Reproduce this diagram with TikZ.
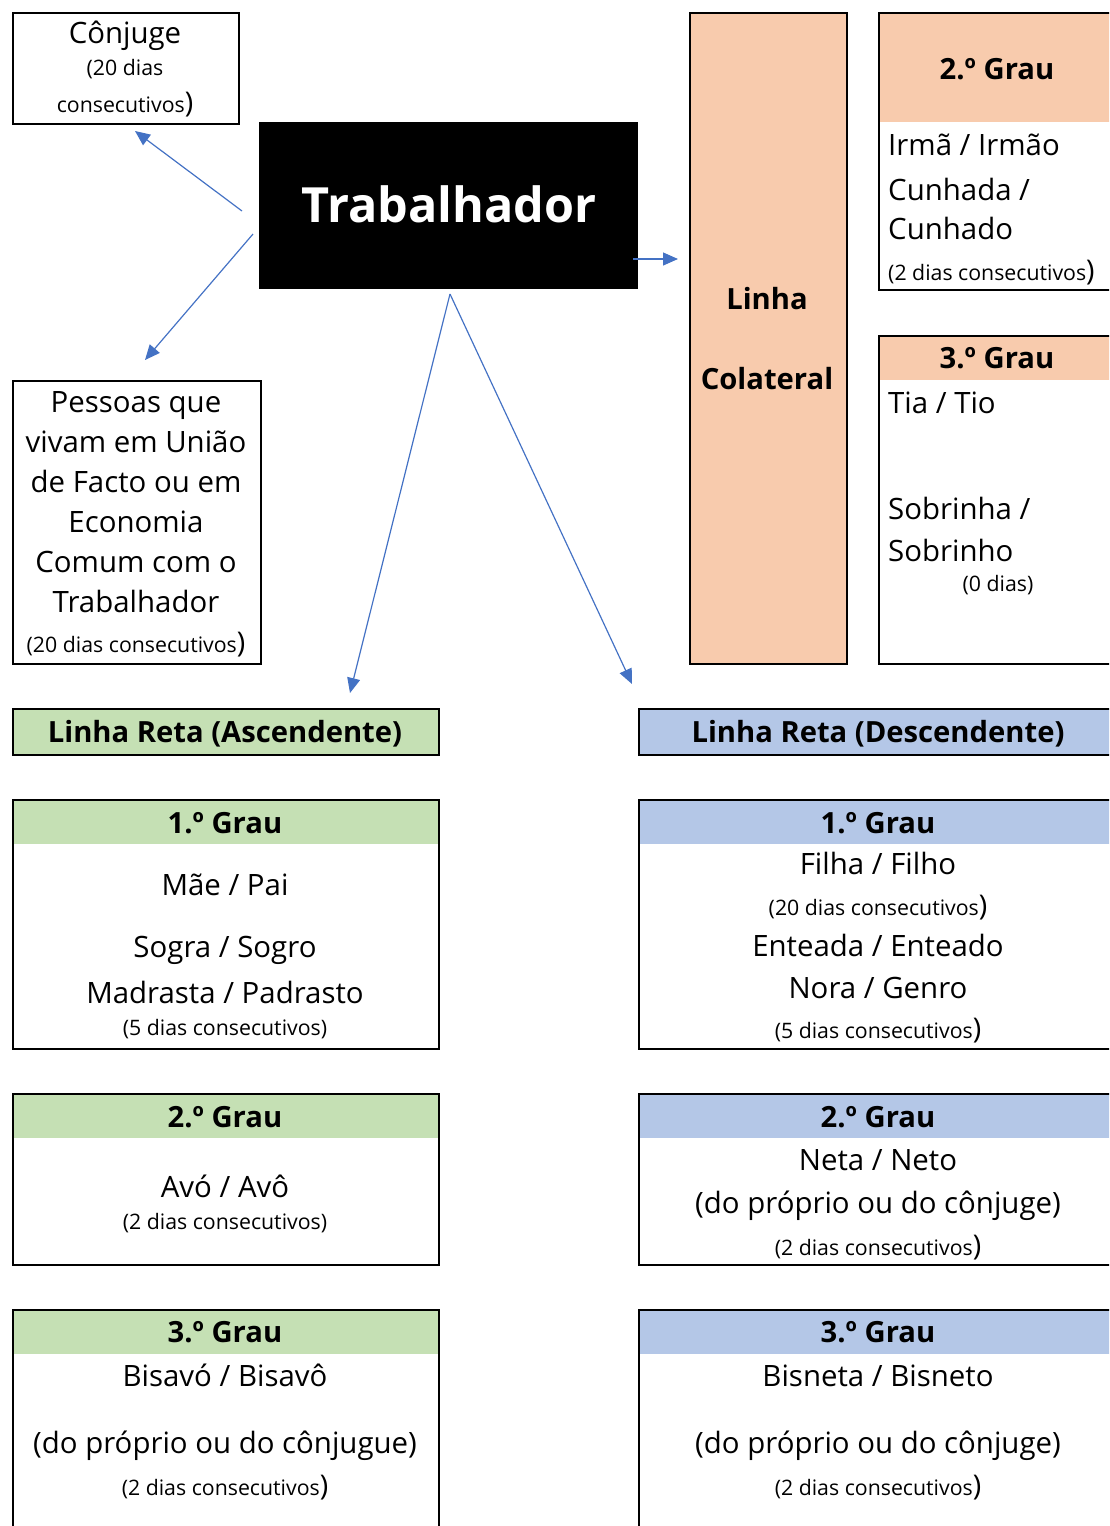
\documentclass[tikz,border=0pt]{standalone}
\usepackage{fontspec}
\setmainfont{Open Sans}
\usetikzlibrary{arrows.meta}
\definecolor{peach}{HTML}{F8CBAD}
\definecolor{lgreen}{HTML}{C5E0B4}
\definecolor{lblue}{HTML}{B4C7E7}
\definecolor{arrowblue}{HTML}{4472C4}
\newcommand\bigparen{{\fontsize{28.5}{30}\selectfont)}}
\begin{document}
\begin{tikzpicture}[x=1pt,y=-1pt,
  frame/.style={draw=black,line width=2.2pt,anchor=north west,inner sep=0pt},
  hdr/.style={fill=#1,anchor=north west,inner sep=0pt},
  rg/.style={anchor=base,inner sep=0pt,font=\fontsize{29.4}{34}\selectfont},
  sm/.style={anchor=base,inner sep=0pt,font=\fontsize{21.3}{25}\selectfont},
  bd/.style={anchor=base,inner sep=0pt,font=\bfseries\fontsize{29.2}{34}\selectfont},
  arr/.style={draw=arrowblue,line width=1.2pt,-{Triangle[length=15pt,width=13pt]}}
]
\useasboundingbox (0,0) rectangle (1109,1526);
\clip (0,0) rectangle (1109,1526);

% ---- boxes ----
\node[frame,minimum width=226pt,minimum height=111pt] (conj) at (12,12) {};
\node[fill=black,anchor=north west,inner sep=0pt,minimum width=379pt,minimum height=167pt] (trab) at (259,122) {};
\node[frame,minimum width=248pt,minimum height=283pt] (pess) at (12,380) {};
\node[frame,fill=peach,minimum width=157pt,minimum height=651pt] (colat) at (689,12) {};

\node[hdr=peach,minimum width=250pt,minimum height=110pt] (r2h) at (878,12) {};
\node[frame,minimum width=250pt,minimum height=277pt] (r2) at (878,12) {};
\node[hdr=peach,minimum width=250pt,minimum height=45pt] (r3h) at (878,335) {};
\node[frame,minimum width=250pt,minimum height=328pt] (r3) at (878,335) {};

\node[frame,fill=lgreen,minimum width=426pt,minimum height=46pt] (asc) at (12,708) {};
\node[frame,fill=lblue,minimum width=490pt,minimum height=46pt] (desc) at (638,708) {};

\node[hdr=lgreen,minimum width=426pt,minimum height=45pt] (a1h) at (12,799) {};
\node[frame,minimum width=426pt,minimum height=249pt] (a1) at (12,799) {};
\node[hdr=lblue,minimum width=490pt,minimum height=45pt] (d1h) at (638,799) {};
\node[frame,minimum width=490pt,minimum height=249pt] (d1) at (638,799) {};

\node[hdr=lgreen,minimum width=426pt,minimum height=45pt] (a2h) at (12,1093) {};
\node[frame,minimum width=426pt,minimum height=171pt] (a2) at (12,1093) {};
\node[hdr=lblue,minimum width=490pt,minimum height=45pt] (d2h) at (638,1093) {};
\node[frame,minimum width=490pt,minimum height=171pt] (d2) at (638,1093) {};

\node[hdr=lgreen,minimum width=426pt,minimum height=45pt] (a3h) at (12,1309) {};
\node[frame,minimum width=426pt,minimum height=240pt] (a3) at (12,1309) {};
\node[hdr=lblue,minimum width=490pt,minimum height=45pt] (d3h) at (638,1309) {};
\node[frame,minimum width=490pt,minimum height=240pt] (d3) at (638,1309) {};

% ---- texts ----
\node[rg] (t1) at (125,43) {Cônjuge};
\node[sm] (t2) at (125,75) {(20 dias};
\node[sm] (t3) at (125,112) {consecutivos\bigparen};

\node[anchor=base,inner sep=0pt,text=white,font=\bfseries\fontsize{48.5}{56}\selectfont] (t4) at (449,222) {Trabalhador};

\node[rg] (p1) at (136,412) {Pessoas que};
\node[rg] (p2) at (136,452) {vivam em União};
\node[rg] (p3) at (136,492) {de Facto ou em};
\node[rg] (p4) at (136,532) {Economia};
\node[rg] (p5) at (136,572) {Comum com o};
\node[rg] (p6) at (136,612) {Trabalhador};
\node[sm] (p7) at (136,652) {(20 dias consecutivos\bigparen};

\node[bd] (c1) at (767,309) {Linha};
\node[bd] (c2) at (767,389) {Colateral};

\node[bd] (g2) at (997,79) {2.º Grau};
\node[rg,anchor=base west] (g2a) at (888,155) {Irmã / Irmão};
\node[rg,anchor=base west] (g2b) at (888,200) {Cunhada /};
\node[rg,anchor=base west] (g2c) at (888,239) {Cunhado};
\node[sm,anchor=base west] (g2d) at (888,280) {(2 dias consecutivos\bigparen};

\node[bd] (g3) at (997,368) {3.º Grau};
\node[rg,anchor=base west] (g3a) at (888,413) {Tia / Tio};
\node[rg,anchor=base west] (g3b) at (888,519) {Sobrinha /};
\node[rg,anchor=base west] (g3c) at (888,561) {Sobrinho};
\node[sm] (g3d) at (998,591) {(0 dias)};

\node[bd] (ascT) at (225,742) {Linha Reta (Ascendente)};
\node[bd] (descT) at (878,742) {Linha Reta (Descendente)};

\node[bd] (a1t) at (225,833) {1.º Grau};
\node[rg] (a1a) at (225,895) {Mãe / Pai};
\node[rg] (a1b) at (225,957) {Sogra / Sogro};
\node[rg] (a1c) at (225,1003) {Madrasta / Padrasto};
\node[sm] (a1d) at (225,1035) {(5 dias consecutivos)};

\node[bd] (d1t) at (878,833) {1.º Grau};
\node[rg] (d1a) at (878,874) {Filha / Filho};
\node[sm] (d1b) at (878,915) {(20 dias consecutivos\bigparen};
\node[rg] (d1c) at (878,956) {Enteada / Enteado};
\node[rg] (d1d) at (878,998) {Nora / Genro};
\node[sm] (d1e) at (878,1038) {(5 dias consecutivos\bigparen};

\node[bd] (a2t) at (225,1127) {2.º Grau};
\node[rg] (a2a) at (225,1197) {Avó / Avô};
\node[sm] (a2b) at (225,1229) {(2 dias consecutivos)};

\node[bd] (d2t) at (878,1127) {2.º Grau};
\node[rg] (d2a) at (878,1170) {Neta / Neto};
\node[rg] (d2b) at (878,1213) {(do próprio ou do cônjuge)};
\node[sm] (d2c) at (878,1255) {(2 dias consecutivos\bigparen};

\node[bd] (a3t) at (225,1342) {3.º Grau};
\node[rg] (a3a) at (225,1386) {Bisavó / Bisavô};
\node[rg] (a3b) at (225,1453) {(do próprio ou do cônjugue)};
\node[sm] (a3c) at (225,1495) {(2 dias consecutivos\bigparen};

\node[bd] (d3t) at (878,1342) {3.º Grau};
\node[rg] (d3a) at (878,1386) {Bisneta / Bisneto};
\node[rg] (d3b) at (878,1453) {(do próprio ou do cônjuge)};
\node[sm] (d3c) at (878,1495) {(2 dias consecutivos\bigparen};

% ---- arrows ----
\coordinate (s1) at (242,211); \coordinate (e1) at (135,131);
\coordinate (s2) at (253,234); \coordinate (e2) at (145,360);
\coordinate (s3) at (633,259); \coordinate (e3) at (678,259);
\coordinate (s4) at (450,294); \coordinate (e4) at (350,693);
\coordinate (e5) at (632,684);
\draw[arr] (s1) -- (e1);
\draw[arr] (s2) -- (e2);
\draw[arr] (s3) -- (e3);
\draw[arr] (s4) -- (e4);
\draw[arr] (s4) -- (e5);
\end{tikzpicture}
\end{document}
